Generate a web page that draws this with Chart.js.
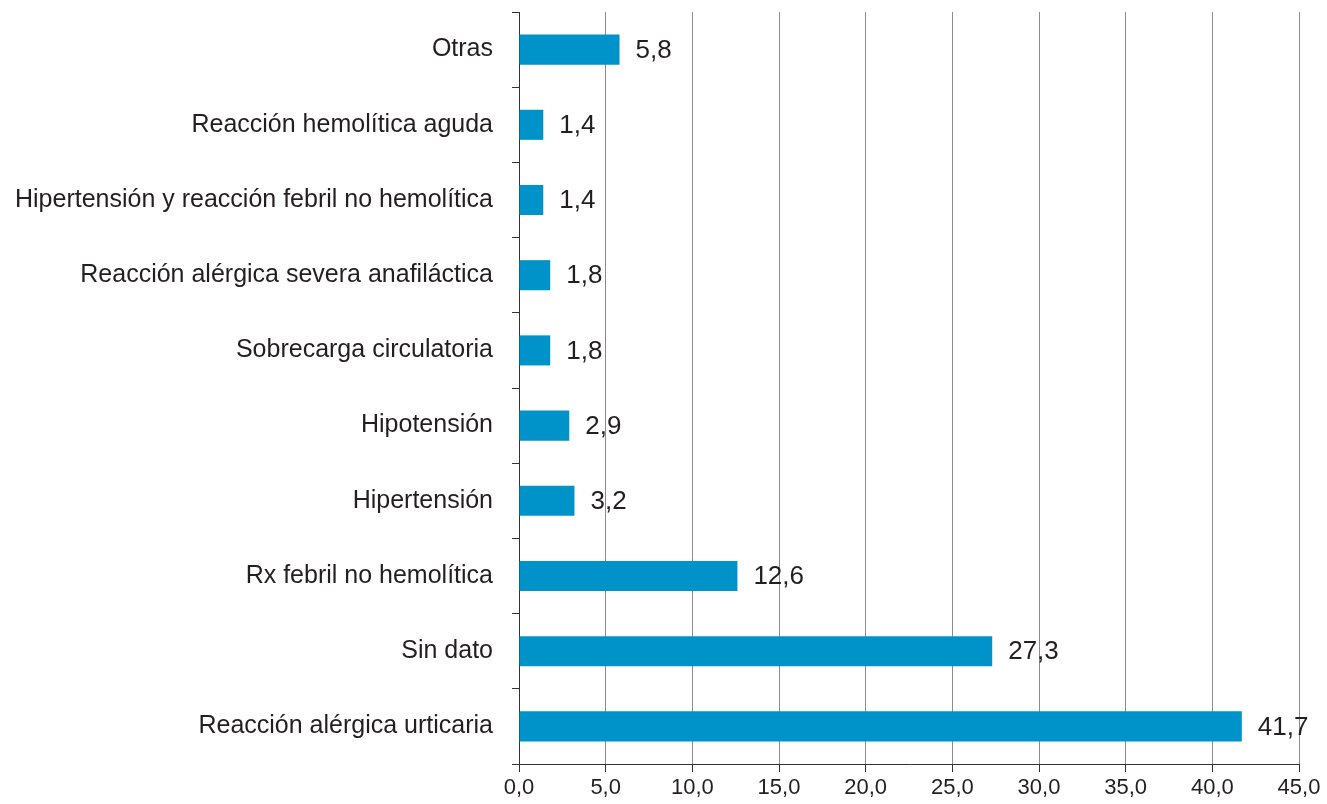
<!DOCTYPE html>
<html>
<head>
<meta charset="utf-8">
<script src="https://cdn.jsdelivr.net/npm/chart.js@4"></script>
<style>
  html, body { margin: 0; padding: 0; background: #fff; }
  #wrap { width: 1327px; height: 804px; }
</style>
</head>
<body>
<div id="wrap"><canvas id="grafico" width="1327" height="804"></canvas></div>
<script>
const categorias = [
  "Otras",
  "Reacción hemolítica aguda",
  "Hipertensión y reacción febril no hemolítica",
  "Reacción alérgica severa anafiláctica",
  "Sobrecarga circulatoria",
  "Hipotensión",
  "Hipertensión",
  "Rx febril no hemolítica",
  "Sin dato",
  "Reacción alérgica urticaria"
];
const porcentajes = [5.8, 1.4, 1.4, 1.8, 1.8, 2.9, 3.2, 12.6, 27.3, 41.7];
const ticksX = [0, 5, 10, 15, 20, 25, 30, 35, 40, 45];

const coma = v => Number(v).toFixed(1).replace(".", ",");
const fuente = "'Liberation Sans', Arial, sans-serif";

// etiquetas de valor al lado de cada barra
const etiquetas = {
  id: "etiquetas",
  afterDatasetsDraw(chart) {
    const ctx = chart.ctx;
    const meta = chart.getDatasetMeta(0);
    ctx.save();
    ctx.font = "26px " + fuente;
    ctx.fillStyle = "#231f20";
    ctx.textAlign = "left";
    ctx.textBaseline = "middle";
    meta.data.forEach((bar, i) => {
      ctx.fillText(coma(porcentajes[i]), bar.x + 16, bar.y + 1);
    });
    ctx.restore();
  }
};

new Chart(document.getElementById("grafico").getContext("2d"), {
  type: "bar",
  data: {
    labels: categorias,
    datasets: [{
      data: porcentajes,
      backgroundColor: "#0093c9",
      barPercentage: 0.4,
      categoryPercentage: 1.0
    }]
  },
  options: {
    indexAxis: "y",
    responsive: false,
    animation: false,
    layout: { padding: { top: 12, right: 28, left: 0, bottom: 0 } },
    plugins: {
      legend: { display: false },
      tooltip: { enabled: false }
    },
    scales: {
      x: {
        min: 0,
        max: 45,
        afterBuildTicks: axis => { axis.ticks = ticksX.map(v => ({ value: v })); },
        afterFit: axis => { axis.height = 40; axis.paddingLeft = 0; axis.paddingRight = 0; },
        grid: {
          color: "#8c8c8c",
          lineWidth: 1,
          tickLength: 8,
          tickColor: "#333"
        },
        border: { color: "#333", width: 1 },
        ticks: {
          callback: v => coma(v),
          color: "#231f20",
          padding: 3,
          maxRotation: 0,
          font: { family: fuente, size: 22 }
        }
      },
      y: {
        afterFit: axis => { axis.width = 519; axis.paddingTop = 0; axis.paddingBottom = 0; },
        grid: {
          drawOnChartArea: false,
          drawTicks: true,
          tickLength: 7,
          color: "#333",
          offset: true
        },
        border: { color: "#333", width: 1 },
        ticks: {
          color: "#231f20",
          padding: 19,
          font: { family: fuente, size: 25 }
        }
      }
    }
  },
  plugins: [etiquetas]
});
</script>
</body>
</html>
